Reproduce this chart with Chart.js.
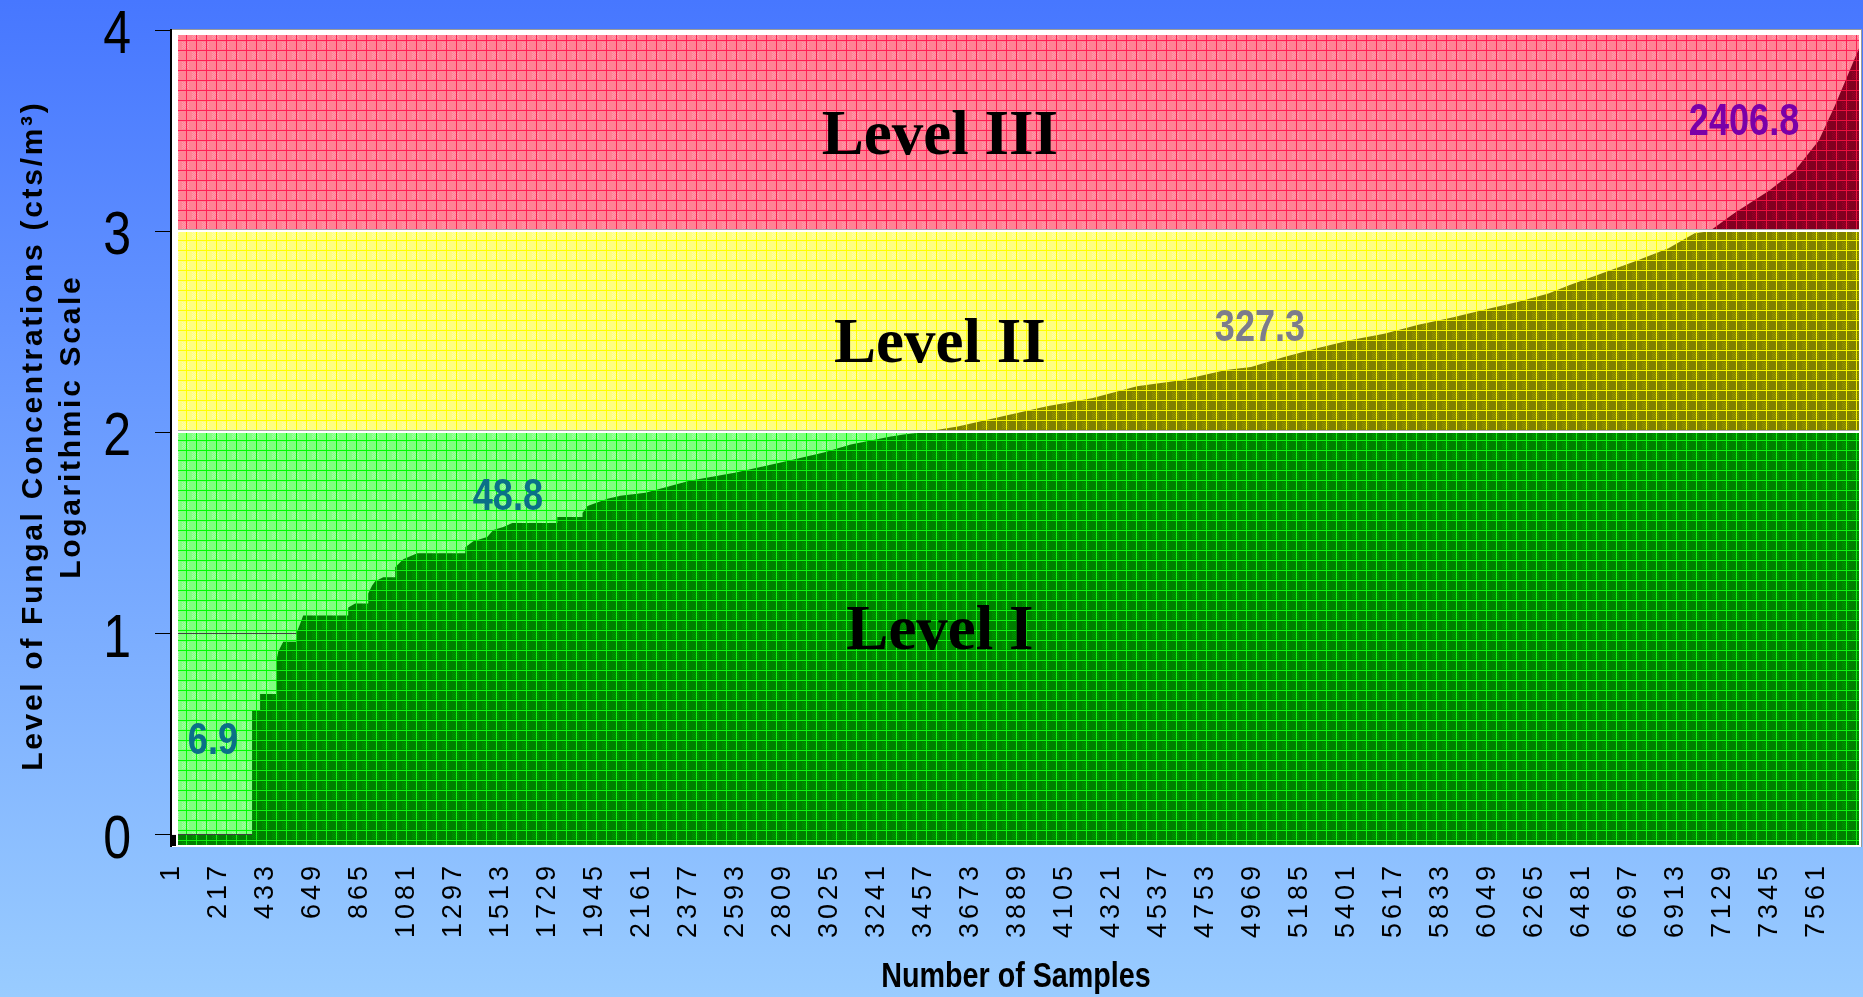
<!DOCTYPE html>
<html>
<head>
<meta charset="utf-8">
<title>Level of Fungal Concentrations</title>
<script src="https://cdn.jsdelivr.net/npm/chart.js@4.4.1/dist/chart.umd.min.js"></script>
<style>
  html, body { margin: 0; padding: 0; }
  body { width: 1863px; height: 997px; overflow: hidden;
         background: linear-gradient(180deg, #4777ff 0%, #99ccff 100%); }
  #wrap { position: relative; width: 1863px; height: 997px; }
</style>
</head>
<body>
<div id="wrap"><canvas id="chart"></canvas></div>
<script>
// samples sorted by concentration: sample number -> log10(cts/m3)
const sampleNo = [1, 369, 369, 406, 406, 479, 479, 489, 512, 572, 572, 590, 604, 811, 811, 843, 903, 903, 921, 935,
  972, 1027, 1027, 1064, 1128, 1349, 1349, 1386, 1450, 1478, 1524, 1565, 1772, 1772, 1888, 1888, 1911, 2003, 2062, 2177,
  2380, 2587, 2794, 2997, 3121, 3305, 3365, 3443, 3613, 3820, 4023, 4229, 4437, 4639, 4846, 4961, 5113, 5269, 5421, 5573,
  5730, 5881, 6033, 6190, 6328, 6420, 6572, 6724, 6880, 7000, 7068, 7183, 7340, 7460, 7570, 7643, 7721, 7760];
const logConc = [0, 0, 0.616, 0.616, 0.70, 0.70, 0.854, 0.91, 0.96, 0.96, 1.0, 1.05, 1.09, 1.09, 1.13, 1.15, 1.15, 1.20, 1.24, 1.26,
  1.28, 1.28, 1.33, 1.37, 1.40, 1.40, 1.43, 1.46, 1.48, 1.515, 1.53, 1.55, 1.55, 1.58, 1.58, 1.60, 1.635, 1.67, 1.685, 1.70,
  1.76, 1.80, 1.85, 1.90, 1.94, 1.98, 1.99, 2.0, 2.03, 2.08, 2.13, 2.17, 2.23, 2.26, 2.31, 2.325, 2.375, 2.42, 2.46, 2.49,
  2.535, 2.57, 2.61, 2.65, 2.69, 2.73, 2.79, 2.85, 2.915, 2.99, 3.0, 3.09, 3.20, 3.30, 3.45, 3.62, 3.82, 3.92];

const yTicks = [0, 1, 2, 3, 4];
const xTicks = [1, 217, 433, 649, 865, 1081, 1297, 1513, 1729, 1945, 2161, 2377, 2593, 2809, 3025, 3241, 3457, 3673,
  3889, 4105, 4321, 4537, 4753, 4969, 5185, 5401, 5617, 5833, 6049, 6265, 6481, 6697, 6913, 7129, 7345, 7561];

const levelNames = ['Level I', 'Level II', 'Level III'];
const levelBounds = [2, 3];
const markerTexts = ['6.9', '48.8', '327.3', '2406.8'];

// annotation placement (sample, log value of baseline)
const levelAt = [[3531, 0.924], [3531, 2.35], [3531, 3.384]];
const markerAt = [[189, 0.40], [1545, 1.615], [5002, 2.455], [7227, 3.478]];
const markerColors = ['#0a7088', '#0a7088', '#7c7c8c', '#7a00a8'];

function hasFont(name){
  const g = document.createElement('canvas').getContext('2d');
  g.font = '40px monospace';
  const w0 = g.measureText('Level 0123456789').width;
  g.font = '40px "' + name + '", monospace';
  return g.measureText('Level 0123456789').width !== w0;
}
const NARROW = hasFont('Liberation Sans Narrow');

// grid hatch tile like the office "large grid" fill
function makeTile(base, line, dot){
  const c = document.createElement('canvas');
  c.width = 20; c.height = 20;
  const g = c.getContext('2d');
  g.fillStyle = base; g.fillRect(0, 0, 20, 20);
  g.fillStyle = dot;
  for (let y = 0; y < 20; y++) for (let x = 0; x < 20; x++) {
    const cell = (Math.floor(x / 10) + Math.floor(y / 10)) % 2;
    const ix = x % 10, iy = y % 10;
    if (cell === 0 && ix > 1 && ix < 9 && iy > 1 && iy < 9 && (x + y) % 2 === 0) g.fillRect(x, y, 1, 1);
  }
  g.fillStyle = line;
  g.fillRect(0, 0, 20, 1); g.fillRect(0, 10, 20, 1);
  g.fillRect(6, 0, 1, 20); g.fillRect(16, 0, 1, 20);
  return c;
}
const LIGHT = {
  red: makeTile('#ff8294', '#ff1f55', '#ff9aaa'),
  yellow: makeTile('#ffff80', '#ffff00', '#ffffa8'),
  green: makeTile('#80ff80', '#00ff00', '#a4ffa4')
};
const DARK = {
  red: makeTile('#820020', '#e8103e', '#9a0028'),
  yellow: makeTile('#7f7f00', '#f0f000', '#969600'),
  green: makeTile('#007f00', '#10f010', '#009600')
};

function bandRects(chart){
  const a = chart.chartArea, y = chart.scales.y;
  const y2 = y.getPixelForValue(levelBounds[0]);
  const y3 = y.getPixelForValue(levelBounds[1]);
  return [[a.top, y3, 'red'], [y3, y2, 'yellow'], [y2, a.bottom, 'green']];
}

let darkCache = null;
function darkFill(chart){
  const a = chart.chartArea;
  const key = chart.width + 'x' + chart.height + ':' + a.top + ':' + a.bottom;
  if (darkCache && darkCache.key === key) return darkCache.pattern;
  const c = document.createElement('canvas');
  c.width = 20; c.height = chart.height;
  const g = c.getContext('2d');
  bandRects(chart).forEach(([t, b, k]) => {
    g.fillStyle = g.createPattern(DARK[k], 'repeat');
    g.fillRect(0, t, 20, b - t);
  });
  g.fillStyle = g.createPattern(DARK.green, 'repeat');
  g.fillRect(0, a.bottom, 20, chart.height - a.bottom);
  const pattern = chart.ctx.createPattern(c, 'repeat');
  darkCache = {key, pattern};
  return pattern;
}

function narrowText(ctx, text, x, y, size, color, weight, align){
  ctx.save();
  ctx.fillStyle = color;
  ctx.textAlign = align || 'center';
  ctx.textBaseline = 'alphabetic';
  const w = weight || 'bold';
  if (NARROW) {
    ctx.font = w + ' ' + size + 'px "Liberation Sans Narrow"';
    ctx.fillText(text, x, y);
  } else {
    ctx.font = w + ' ' + size + 'px "Liberation Sans", Arial, sans-serif';
    ctx.translate(x, y); ctx.scale(0.82, 1);
    ctx.fillText(text, 0, 0);
  }
  ctx.restore();
}

const levelPlugin = {
  id: 'levels',
  beforeDraw(chart){
    const {ctx, chartArea: a} = chart;
    ctx.save();
    bandRects(chart).forEach(([t, b, k]) => {
      ctx.fillStyle = ctx.createPattern(LIGHT[k], 'repeat');
      ctx.fillRect(a.left, t, a.right - a.left, b - t);
    });
    ctx.restore();
  },
  afterDatasetsDraw(chart){
    const {ctx, chartArea: a, scales: {y}} = chart;
    const w = a.right - a.left, h = a.bottom - a.top;
    ctx.save();
    levelBounds.forEach(v => {
      const p = Math.round(y.getPixelForValue(v));
      ctx.fillStyle = '#a8a8a8'; ctx.fillRect(a.left, p - 2, w, 1);
      ctx.fillStyle = '#ffffff'; ctx.fillRect(a.left, p - 1, w, 2);
    });
    ctx.fillStyle = '#9a9a9a';
    ctx.fillRect(a.left, a.top - 1, w + 2, 1);
    ctx.fillRect(a.right + 1, a.top, 1, h);
    ctx.fillStyle = '#ffffff';
    ctx.fillRect(a.left, a.top, w, 5);
    ctx.fillRect(a.left, a.top, 6, h);
    ctx.fillRect(a.left, a.bottom - 2, w + 1, 2);
    ctx.fillRect(a.right - 1, a.top, 2, h);
    ctx.fillStyle = '#000000';
    ctx.fillRect(a.left - 2, a.top - 1, 2, h + 1);
    const y0 = y.getPixelForValue(0);
    ctx.fillRect(a.left - 2, y0, 6, a.bottom - y0 - 1);
    ctx.restore();
  },
  afterDraw(chart){
    const {ctx, chartArea: a, scales: {x, y}} = chart;
    // tall narrow y tick numbers
    y.ticks.forEach(t => {
      narrowText(ctx, String(t.value), 131, y.getPixelForValue(t.value) + 23, 61, '#000', 'normal', 'right');
    });

    // x tick numbers, rotated and spaced out
    ctx.save();
    ctx.fillStyle = '#000';
    ctx.font = '27px "Liberation Sans", Arial, sans-serif';
    ctx.letterSpacing = '4px';
    ctx.textAlign = 'right';
    ctx.textBaseline = 'middle';
    x.ticks.forEach(t => {
      ctx.save();
      ctx.translate(x.getPixelForValue(t.value), a.bottom + 15);
      ctx.rotate(-Math.PI / 2);
      ctx.fillText(String(t.value), 0, 0);
      ctx.restore();
    });
    ctx.restore();

    ctx.save();
    ctx.fillStyle = '#000';
    ctx.textAlign = 'center';
    ctx.textBaseline = 'alphabetic';
    ctx.font = 'bold 63px "Liberation Serif", "Times New Roman", serif';
    levelNames.forEach((t, i) => {
      ctx.fillText(t, x.getPixelForValue(levelAt[i][0]), y.getPixelForValue(levelAt[i][1]));
    });
    ctx.restore();

    markerTexts.forEach((t, i) => {
      narrowText(ctx, t, x.getPixelForValue(markerAt[i][0]), y.getPixelForValue(markerAt[i][1]), 44, markerColors[i]);
    });

    // axis titles
    ctx.save();
    ctx.fillStyle = '#000';
    ctx.textAlign = 'center';
    ctx.textBaseline = 'alphabetic';
    ctx.font = 'bold 30px "Liberation Sans", Arial, sans-serif';
    ctx.letterSpacing = '2.7px';
    [['Level of Fungal Concentrations (cts/m\u00b3)', 42, 437], ['Logarithmic Scale', 80, 428]].forEach(([t, bx, cy]) => {
      ctx.save();
      ctx.translate(bx, cy);
      ctx.rotate(-Math.PI / 2);
      ctx.fillText(t, 1.3, 0);
      ctx.restore();
    });
    ctx.restore();
    narrowText(ctx, 'Number of Samples', 1016, 987, 35, '#000');
  }
};

new Chart(document.getElementById('chart'), {
  type: 'line',
  data: {
    datasets: [{
      label: 'Fungal concentration',
      data: sampleNo.map((s, i) => ({x: s, y: logConc[i]})),
      borderWidth: 0,
      borderColor: 'rgba(0,0,0,0)',
      pointRadius: 0,
      tension: 0,
      fill: 'start',
      backgroundColor(c){
        if (!c.chart.chartArea) return '#008000';
        return darkFill(c.chart);
      }
    }]
  },
  options: {
    responsive: true,
    maintainAspectRatio: false,
    animation: false,
    layout: { padding: { top: 30, right: 3, left: 0, bottom: 0 } },
    plugins: { legend: { display: false }, tooltip: { enabled: false } },
    scales: {
      x: {
        type: 'linear',
        min: 1, max: 7760,
        afterBuildTicks(s){ s.ticks = xTicks.map(v => ({value: v})); },
        afterFit(s){ s.height = 150; s.paddingLeft = 0; s.paddingRight = 0; },
        grid: { display: false, drawTicks: false },
        border: { display: false },
        ticks: { display: false }
      },
      y: {
        min: -0.06, max: 4,
        afterBuildTicks(s){ s.ticks = yTicks.map(v => ({value: v})); },
        afterFit(s){ s.width = 172; s.paddingTop = 0; s.paddingBottom = 0; },
        border: { display: false },
        grid: { color: '#404040', lineWidth: 1, drawTicks: true, tickLength: 17, tickColor: '#000' },
        ticks: { display: false }
      }
    }
  },
  plugins: [levelPlugin]
});
</script>
</body>
</html>
